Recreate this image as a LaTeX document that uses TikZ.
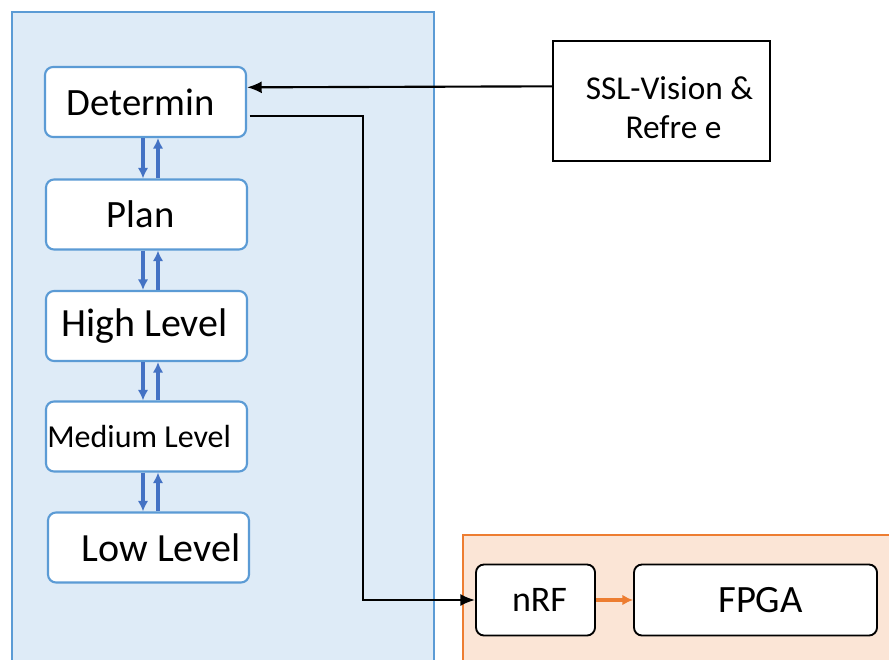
\documentclass[tikz,border=0pt]{standalone}
\usepackage{fontspec}
\setmainfont{Carlito}
\usetikzlibrary{arrows.meta}

\definecolor{panelblue}{RGB}{222,235,247}
\definecolor{edgeblue}{RGB}{91,155,213}
\definecolor{arrowblue}{RGB}{68,114,196}
\definecolor{panelorange}{RGB}{251,229,214}
\definecolor{edgeorange}{RGB}{237,125,49}

\tikzset{
  layerbox/.style={draw=edgeblue, line width=1.6pt, fill=white, rounded corners=6pt,
    minimum width=150.75pt, minimum height=52.5pt, inner sep=0pt},
  radiobox/.style={draw=black, line width=1.4pt, fill=white, rounded corners=6pt,
    minimum height=53.25pt, inner sep=0pt},
  layerlink/.style={draw=arrowblue, line width=2.4pt, -{Latex[length=8pt,width=8pt]}},
  blacklink/.style={draw=black, line width=1.6pt, -{Latex[length=11pt,width=9pt]}},
}

\begin{document}
\begin{tikzpicture}[x=0.75pt,y=0.75pt,yscale=-1,xscale=1]
\clip (0,0) rectangle (889,660);

%Shape: Rectangle [software panel]
\draw [draw=edgeblue, fill=panelblue, line width=1.6pt] (12,12) rectangle (434,680);
%Shape: Rectangle [robot panel]
\draw [draw=edgeorange, fill=panelorange, line width=1.6pt] (463,535) rectangle (900,680);

% Layer boxes
\node [layerbox, font=\fontsize{29}{34}\selectfont] (det) at (145.5,102) {Determin\hspace*{7pt}};
\node [layerbox, font=\fontsize{29}{34}\selectfont] (plan) at (146.5,214.5) {Plan\hspace*{9pt}};
\node [layerbox, font=\fontsize{30}{35}\selectfont] (high) at (146.5,326) {High Level\hspace*{3pt}};
\node [layerbox, font=\fontsize{24}{29}\selectfont] (med) at (146.5,436.5) {Medium Level\hspace*{11pt}};
\node [layerbox, font=\fontsize{30}{35}\selectfont] (low) at (148.5,547.5) {\hspace*{19pt}Low Level};

% Outside box
\node [draw=black, line width=1.4pt, fill=white, minimum width=162.75pt, minimum height=90pt,
  inner sep=0pt, align=center, font=\fontsize{25}{29}\selectfont] (ssl) at (661.5,101)
  {\rule{0pt}{27pt}\hspace*{12pt}SSL-Vision \&\\\hspace*{18pt}Refre e};

% Robot boxes
\node [radiobox, minimum width=89.25pt, font=\fontsize{27}{32}\selectfont] (nrf) at (535.5,600) {\hspace*{6pt}nRF};
\node [radiobox, minimum width=182.25pt, font=\fontsize{29}{34}\selectfont] (fpga) at (755.5,600) {\hspace*{7.5pt}FPGA};

%Straight Lines [layer links]
\draw [layerlink] (143,0 |- det.south) -- (143,0 |- plan.north);
\draw [layerlink] (158,0 |- plan.north) -- (158,0 |- det.south);
\draw [layerlink] (143,0 |- plan.south) -- (143,0 |- high.north);
\draw [layerlink] (158,0 |- high.north) -- (158,0 |- plan.south);
\draw [layerlink] (143,0 |- high.south) -- (143,0 |- med.north);
\draw [layerlink] (158,0 |- med.north) -- (158,0 |- high.south);
\draw [layerlink] (143,0 |- med.south) -- (143,0 |- low.north);
\draw [layerlink] (158,0 |- low.north) -- (158,0 |- med.south);

%Straight Lines [vision to determin]
\draw [blacklink] ([yshift=-11pt]ssl.west) -- ([yshift=-11pt]det.east);
%Straight Lines [determin to nRF]
\draw [blacklink] ([xshift=2pt,yshift=10.5pt]det.east) -| (363,0 |- nrf.west) -- (nrf.west);
%Straight Lines [nRF to FPGA]
\draw [draw=edgeorange, line width=2.4pt, -{Latex[length=8pt,width=8pt]}] (nrf.east) -- (fpga.west);

\end{tikzpicture}
\end{document}
